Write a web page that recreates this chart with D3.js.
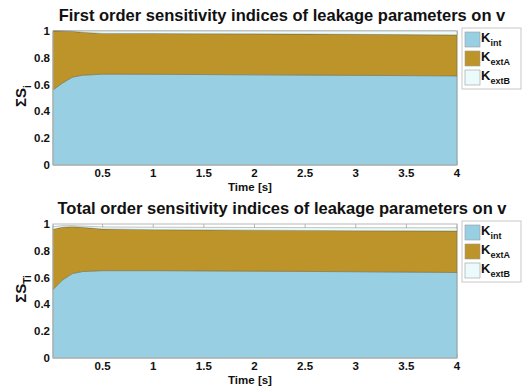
<!DOCTYPE html>
<html>
<head>
<meta charset="utf-8">
<script src="https://cdn.jsdelivr.net/npm/d3@7/dist/d3.min.js"></script>
<style>
  html, body { margin: 0; padding: 0; background: #fff; }
  svg { display: block; font-family: "Liberation Sans", Arial, sans-serif; }
</style>
</head>
<body>
<svg id="chart" width="523" height="387"></svg>
<script>
// Time samples [s]
const time = [0.01, 0.1, 0.2, 0.3, 0.5, 1, 1.5, 2, 2.5, 3, 3.5, 4];

// First order indices
const firstKint  = [0.560, 0.610, 0.655, 0.670, 0.678, 0.677, 0.675, 0.673, 0.671, 0.669, 0.667, 0.665];
const firstKextA = [0.440, 0.389, 0.342, 0.320, 0.304, 0.304, 0.305, 0.306, 0.306, 0.306, 0.306, 0.306];
const firstKextB = [0.000, 0.001, 0.003, 0.010, 0.018, 0.019, 0.020, 0.021, 0.023, 0.025, 0.027, 0.029];

// Total order indices
const totalKint  = [0.510, 0.580, 0.630, 0.645, 0.652, 0.652, 0.650, 0.648, 0.646, 0.644, 0.641, 0.638];
const totalKextA = [0.450, 0.395, 0.350, 0.330, 0.310, 0.306, 0.306, 0.306, 0.306, 0.306, 0.308, 0.310];
const totalKextB = [0.020, 0.012, 0.008, 0.010, 0.016, 0.018, 0.019, 0.020, 0.021, 0.022, 0.023, 0.024];

const seriesNames = ["Kint", "KextA", "KextB"];
const legendMain = ["K", "K", "K"];
const legendSub = ["int", "extA", "extB"];
const xTicks = [0.5, 1, 1.5, 2, 2.5, 3, 3.5, 4];
const xTickLabels = ["0.5", "1", "1.5", "2", "2.5", "3", "3.5", "4"];
const yTicks = [0, 0.2, 0.4, 0.6, 0.8, 1];
const yTickLabels = ["0", "0.2", "0.4", "0.6", "0.8", "1"];

const colors = { Kint: "#98cfe3", KextA: "#bd9429", KextB: "#ebfbfb" };

const svg = d3.select("#chart");

function drawPanel(top, title, ySub, kint, kextA, kextB) {
  const left = 53, right = 457, height = 134;
  const x = d3.scaleLinear().domain([0.01, 4]).range([left, right]);
  const y = d3.scaleLinear().domain([0, 1]).range([top + height, top]);

  const rows = time.map((t, i) => ({ t, Kint: kint[i], KextA: kextA[i], KextB: kextB[i] }));
  const stacked = d3.stack().keys(seriesNames)(rows);

  const g = svg.append("g");

  // box outline and inner ticks (drawn first, areas sit on top)
  const axisColor = "#b8b8b8";
  g.append("rect").attr("x", left).attr("y", top).attr("width", right - left).attr("height", height)
    .attr("fill", "none").attr("stroke", axisColor).attr("stroke-width", 1);
  xTicks.forEach(v => {
    g.append("line").attr("x1", x(v)).attr("x2", x(v)).attr("y1", top).attr("y2", top + 4)
      .attr("stroke", axisColor);
    g.append("line").attr("x1", x(v)).attr("x2", x(v)).attr("y1", top + height).attr("y2", top + height - 4)
      .attr("stroke", axisColor);
  });

  const area = d3.area()
    .x(d => x(d.data.t))
    .y0(d => y(d[0]))
    .y1(d => y(d[1]));

  g.selectAll("path.layer").data(stacked).join("path")
    .attr("class", "layer")
    .attr("d", area)
    .attr("fill", d => colors[d.key])
    .attr("stroke", "#4a4a3a")
    .attr("stroke-opacity", 0.45)
    .attr("stroke-width", 0.7);

  // left and bottom axis lines
  g.append("line").attr("x1", left).attr("x2", left).attr("y1", top).attr("y2", top + height)
    .attr("stroke", axisColor);
  g.append("line").attr("x1", left).attr("x2", right).attr("y1", top + height).attr("y2", top + height)
    .attr("stroke", axisColor);

  // tick labels
  g.selectAll("text.xt").data(xTicks).join("text")
    .attr("class", "xt")
    .attr("x", d => x(d)).attr("y", top + height + 12)
    .attr("text-anchor", "middle")
    .attr("font-size", 11.5).attr("font-weight", "bold").attr("fill", "#111")
    .text((d, i) => xTickLabels[i]);
  g.selectAll("text.yt").data(yTicks).join("text")
    .attr("class", "yt")
    .attr("x", left - 3).attr("y", d => y(d) + 4)
    .attr("text-anchor", "end")
    .attr("font-size", 11.5).attr("font-weight", "bold").attr("fill", "#111")
    .text((d, i) => yTickLabels[i]);

  // axis titles
  g.append("text").attr("x", 250).attr("y", top + height + 26)
    .attr("text-anchor", "middle").attr("font-size", 11.5).attr("font-weight", "bold").attr("fill", "#111")
    .text("Time [s]");

  const yl = g.append("text")
    .attr("transform", `translate(26,${top + height / 2 - 2}) rotate(-90)`)
    .attr("text-anchor", "middle").attr("font-size", 15).attr("font-weight", "bold").attr("fill", "#111");
  yl.append("tspan").text("ΣS");
  yl.append("tspan").attr("font-size", 10).attr("dy", 5).text(ySub);

  g.append("text").attr("x", 282).attr("y", top - 10)
    .attr("text-anchor", "middle").attr("font-size", 16.5).attr("font-weight", "bold").attr("fill", "#111")
    .text(title);

  // legend
  const lg = g.append("g").attr("transform", `translate(462,${top - 3})`);
  lg.append("rect").attr("x", 0).attr("y", 0).attr("width", 59).attr("height", 61)
    .attr("fill", "#fff").attr("stroke", "#c8c8c8");
  seriesNames.forEach((k, i) => {
    const yy = 4 + i * 19;
    lg.append("rect").attr("x", 3).attr("y", yy).attr("width", 15).attr("height", 15)
      .attr("fill", colors[k]).attr("stroke", "#9a9a9a").attr("stroke-width", 0.6);
    const t = lg.append("text").attr("x", 19).attr("y", yy + 10)
      .attr("font-size", 13).attr("font-weight", "bold").attr("fill", "#111");
    t.append("tspan").text(legendMain[i]);
    t.append("tspan").attr("font-size", 9).attr("dy", 4).text(legendSub[i]);
  });
}

drawPanel(31, "First order sensitivity indices of leakage parameters on v", "i",
  firstKint, firstKextA, firstKextB);
drawPanel(224, "Total order sensitivity indices of leakage parameters on v", "Ti",
  totalKint, totalKextA, totalKextB);
</script>
</body>
</html>
